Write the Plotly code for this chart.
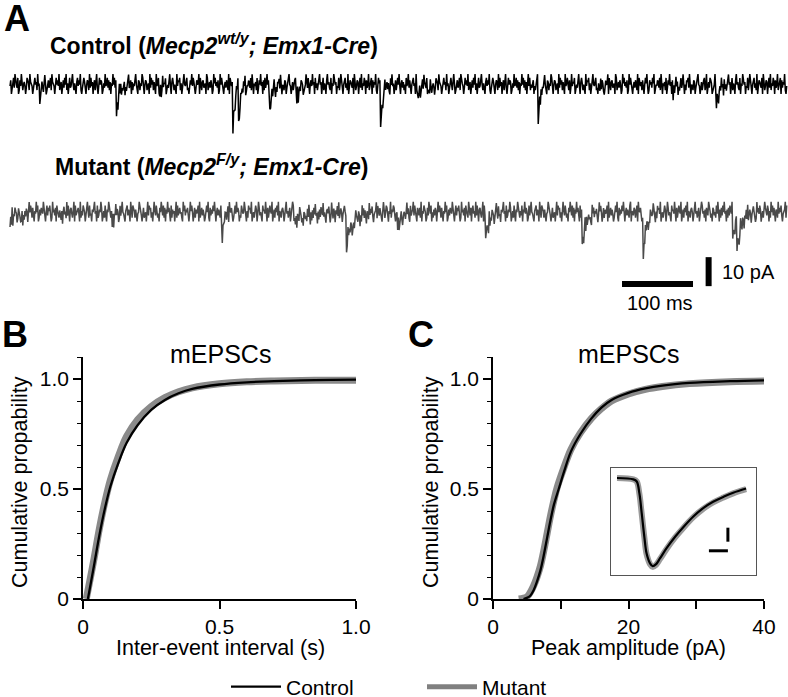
import numpy as np
import plotly.graph_objects as go

W, H = 788, 697
FONT = "Liberation Sans, Arial, sans-serif"

# ---------------- Panel A: example traces ----------------
trace_dt_ms = 1.0
trace_duration_ms = 1094
# miniature events: onset time (ms), amplitude (pA), decay (ms)
ctrl_evt_t = [42, 150, 210, 314, 322, 366, 404, 522, 574, 590, 744, 830, 934, 994]
ctrl_evt_amp = [3.5, 9, 3, 15, 11, 8, 6, 13.5, 5, 3.5, 12.5, 3, 3.5, 9]
ctrl_evt_tau = [3, 4, 3, 3, 3, 4, 3, 3, 3, 3, 2.5, 3, 3, 4]
mut_evt_t = [0, 14, 70, 144, 298, 400, 474, 546, 670, 806, 892, 1018, 1024]
mut_evt_amp = [4, 5, 3, 4, 11, 2.5, 10.5, 7, 9, 10.5, 17, 8, 11]
mut_evt_tau = [4, 3, 3, 3, 2.5, 25, 10, 4, 5, 6, 4, 5, 6]
ctrl_offset_pA = 0.0
mut_offset_pA = -44.0
# hand-typed baseline noise (digits 0-9) and the current level (pA) each digit stands for
noise_digits = (
    "3701582964280173951463028751964302784619350278416950137248196530"
    "2847391560372849150682379415206837491025863047519283604715920384"
    "7601529348271605394827160593814267031589247061538942076153982047"
    "6135092847162093584170293658014279306851420937681502794368120574"
    "9386102745908316724509813627401958362701948510362741908536172048"
    "5930174628590143762819405361802749360718259470316825930417682950"
    "4317602589430261578139046287501349628105739460825137946028153079"
    "4621805397460328159730468251903764280951376048291538607249135807"
    "2649103857284016935726108493502716849305726140835927104683509172"
)
noise_levels_pA = [-3.4, -2.1, -1.3, -0.7, -0.2, 0.2, 0.7, 1.3, 2.1, 3.4]
# scale bars: 100 ms and 10 pA
scalebar_t = [862, 962]
scalebar_t_level = -69.0
scalebar_amp_t = 984
scalebar_amp = [-59.7, -69.7]

# ---------------- Panel B: inter-event interval CDF ----------------
iei_ctrl_x = [0.018, 0.04, 0.06, 0.08, 0.10, 0.13, 0.16, 0.20, 0.25, 0.30, 0.35, 0.40, 0.50, 0.60, 0.70, 0.85, 1.0]
iei_ctrl_y = [0.0, 0.15, 0.29, 0.41, 0.51, 0.62, 0.71, 0.79, 0.86, 0.905, 0.935, 0.955, 0.975, 0.985, 0.99, 0.995, 0.997]
iei_mut_x = [0.012, 0.04, 0.06, 0.08, 0.10, 0.13, 0.16, 0.20, 0.25, 0.30, 0.35, 0.40, 0.50, 0.60, 0.70, 0.85, 1.0]
iei_mut_y = [0.0, 0.18, 0.32, 0.44, 0.54, 0.65, 0.74, 0.815, 0.875, 0.915, 0.942, 0.96, 0.978, 0.987, 0.991, 0.994, 0.994]

# ---------------- Panel C: amplitude CDF ----------------
amp_ctrl_x = [4.5, 5.0, 5.5, 6.0, 6.5, 7.0, 7.5, 8.0, 8.5, 9.0, 9.7, 10.5, 11.5, 12.9, 14.5, 16.0, 17.5, 20.0, 22.5, 25.0, 29.0, 35.0, 40.0]
amp_ctrl_y = [0.0, 0.005, 0.015, 0.04, 0.08, 0.13, 0.2, 0.28, 0.36, 0.43, 0.5, 0.58, 0.67, 0.75, 0.82, 0.87, 0.905, 0.937, 0.957, 0.97, 0.982, 0.99, 0.994]
amp_mut_x = [3.8, 5.0, 5.5, 6.0, 6.5, 7.0, 7.5, 8.0, 8.5, 9.0, 9.5, 10.5, 11.5, 12.9, 14.5, 16.0, 17.5, 20.0, 22.5, 25.0, 29.0, 35.0, 40.0]
amp_mut_y = [0.0, 0.01, 0.03, 0.06, 0.1, 0.15, 0.22, 0.3, 0.38, 0.45, 0.51, 0.6, 0.68, 0.755, 0.82, 0.865, 0.9, 0.932, 0.953, 0.966, 0.979, 0.988, 0.991]

# ---------------- Inset: average mEPSC ----------------
avg_t_ms = [0, 4.3, 5.2, 5.9, 6.5, 7.2, 7.8, 8.7, 9.4, 10.3, 11.3, 13.1, 15.3, 17.5, 20.1, 22.7, 25.3, 28.0, 30.6, 34.0]
avg_ctrl_pA = [0, -0.2, -0.5, -2.2, -5.0, -8.4, -10.8, -12.2, -12.6, -12.3, -11.5, -10.0, -8.4, -7.0, -5.5, -4.3, -3.4, -2.7, -2.1, -1.5]
avg_mut_pA = [0, -0.2, -0.5, -2.3, -5.1, -8.5, -10.9, -12.3, -12.7, -12.4, -11.6, -10.1, -8.5, -7.1, -5.6, -4.4, -3.5, -2.8, -2.2, -1.6]
inset_bar_t = [24.2, 29.2]      # 5 ms
inset_bar_t_level = -10.4
inset_bar_amp_t = 29.2
inset_bar_amp = [-7.1, -9.1]    # 2 pA


def build_trace(evt_t, evt_amp, evt_tau, digits, offset):
    t = np.arange(0, trace_duration_ms + trace_dt_ms, trace_dt_ms)
    y = np.array([noise_levels_pA[int(digits[i % len(digits)])] for i in range(len(t))]) + offset
    for t0, a, tau in zip(evt_t, evt_amp, evt_tau):
        m = t >= t0
        y[m] -= a * np.exp(-(t[m] - t0) / tau)
    return t, y


def px(x):
    return x / W


def py(y):
    return 1 - y / H


fig = go.Figure()

tc, yc = build_trace(ctrl_evt_t, ctrl_evt_amp, ctrl_evt_tau, noise_digits, ctrl_offset_pA)
tm, ym = build_trace(mut_evt_t, mut_evt_amp, mut_evt_tau, noise_digits[::-1], mut_offset_pA)
fig.add_trace(go.Scatter(x=tc, y=yc, mode="lines", line=dict(color="black", width=1.5),
                         xaxis="x", yaxis="y", showlegend=False, hoverinfo="skip"))
fig.add_trace(go.Scatter(x=tm, y=ym, mode="lines", line=dict(color="#4a4a4a", width=1.5),
                         xaxis="x", yaxis="y", showlegend=False, hoverinfo="skip"))
fig.add_trace(go.Scatter(x=scalebar_t, y=[scalebar_t_level] * 2, mode="lines",
                         line=dict(color="black", width=6), xaxis="x", yaxis="y", showlegend=False))
fig.add_trace(go.Scatter(x=[scalebar_amp_t] * 2, y=scalebar_amp, mode="lines",
                         line=dict(color="black", width=6), xaxis="x", yaxis="y", showlegend=False))

GRAY = "#8a8a8a"
# Panel B
fig.add_trace(go.Scatter(x=iei_mut_x, y=iei_mut_y, mode="lines", line=dict(color=GRAY, width=7, shape="spline"),
                         xaxis="x2", yaxis="y2", showlegend=False))
fig.add_trace(go.Scatter(x=iei_ctrl_x, y=iei_ctrl_y, mode="lines", line=dict(color="black", width=2.3, shape="spline"),
                         xaxis="x2", yaxis="y2", showlegend=False))
# Panel C
fig.add_trace(go.Scatter(x=amp_mut_x, y=amp_mut_y, mode="lines", line=dict(color=GRAY, width=7, shape="spline"),
                         xaxis="x3", yaxis="y3", showlegend=False))
fig.add_trace(go.Scatter(x=amp_ctrl_x, y=amp_ctrl_y, mode="lines", line=dict(color="black", width=2.3, shape="spline"),
                         xaxis="x3", yaxis="y3", showlegend=False))
# Inset
fig.add_trace(go.Scatter(x=avg_t_ms, y=avg_mut_pA, mode="lines", line=dict(color="#9a9a9a", width=6, shape="spline"),
                         xaxis="x4", yaxis="y4", showlegend=False))
fig.add_trace(go.Scatter(x=avg_t_ms, y=avg_ctrl_pA, mode="lines", line=dict(color="black", width=2.2, shape="spline"),
                         xaxis="x4", yaxis="y4", showlegend=False))
fig.add_trace(go.Scatter(x=inset_bar_t, y=[inset_bar_t_level] * 2, mode="lines",
                         line=dict(color="black", width=3), xaxis="x4", yaxis="y4", showlegend=False))
fig.add_trace(go.Scatter(x=[inset_bar_amp_t] * 2, y=inset_bar_amp, mode="lines",
                         line=dict(color="black", width=3), xaxis="x4", yaxis="y4", showlegend=False))

# legend entries
fig.add_trace(go.Scatter(x=[None], y=[None], mode="lines", name="Control",
                         line=dict(color="black", width=2.3), xaxis="x2", yaxis="y2"))
fig.add_trace(go.Scatter(x=[None], y=[None], mode="lines", name="Mutant",
                         line=dict(color="#808080", width=5), xaxis="x2", yaxis="y2"))

tickfont = dict(family=FONT, size=21, color="black")
common_y = dict(range=[0, 1.1], tickvals=[0, 0.5, 1.0], ticktext=["0", "0.5", "1.0"],
                ticks="outside", ticklen=8, tickwidth=1.5, tickcolor="black",
                showline=True, linecolor="black", linewidth=1.5, showgrid=False, zeroline=False,
                tickfont=tickfont,
                minor=dict(dtick=0.1, tick0=0, ticks="outside", ticklen=4, tickwidth=1.2, tickcolor="black"))
common_x = dict(ticks="outside", ticklen=8, tickwidth=1.5, tickcolor="black",
                showline=True, linecolor="black", linewidth=1.5, showgrid=False, zeroline=False,
                tickfont=tickfont)

fig.update_layout(
    width=W, height=H, margin=dict(l=0, r=0, t=0, b=0, autoexpand=False),
    paper_bgcolor="white", plot_bgcolor="white",
    font=dict(family=FONT, color="black"),
    xaxis=dict(domain=[0, 1], range=[-14.1, 1095.8], visible=False),
    yaxis=dict(domain=[py(305), py(55)], range=[-76.2, 10.0], visible=False),
    xaxis2=dict(domain=[px(83), px(356)], range=[0, 1.0], tickvals=[0, 0.5, 1.0],
                ticktext=["0", "0.5", "1.0"], anchor="y2", **common_x),
    yaxis2=dict(domain=[py(599), py(357)], anchor="x2", **common_y),
    xaxis3=dict(domain=[px(493), px(764)], range=[0, 40], tickvals=[0, 20, 40],
                ticktext=["0", "20", "40"], anchor="y3",
                minor=dict(tickvals=[10, 30], ticks="outside", ticklen=8, tickwidth=1.5, tickcolor="black"),
                **common_x),
    yaxis3=dict(domain=[py(599), py(357)], anchor="x3", **common_y),
    xaxis4=dict(domain=[px(611), px(756)], range=[-1.58, 36.6], anchor="y4",
                showline=True, mirror=True, linecolor="#555", linewidth=1,
                showticklabels=False, ticks="", showgrid=False, zeroline=False),
    yaxis4=dict(domain=[py(575), py(468)], range=[-13.86, 1.43], anchor="x4",
                showline=True, mirror=True, linecolor="#555", linewidth=1,
                showticklabels=False, ticks="", showgrid=False, zeroline=False),
    showlegend=True,
    legend=dict(orientation="h", x=px(226), y=py(687), xanchor="left", yanchor="middle",
                font=dict(family=FONT, size=21, color="black"), bgcolor="rgba(0,0,0,0)",
                entrywidth=131, entrywidthmode="pixels", traceorder="normal", itemwidth=50),
)

ann = []


def text(x, y, s, size, xanchor="center", bold=False, xref="paper", yref="paper", angle=0):
    ann.append(dict(x=x, y=y, xref=xref, yref=yref, text=("<b>%s</b>" % s) if bold else s,
                    showarrow=False, xanchor=xanchor, yanchor="middle", textangle=angle,
                    font=dict(family=FONT, size=size, color="black")))


text(px(2), py(19), "A", 36, xanchor="left", bold=True)
text(px(0), py(334), "B", 36, xanchor="left", bold=True)
text(px(406), py(334), "C", 36, xanchor="left", bold=True)
text(px(48), py(44), "Control (<i>Mecp2<sup>wt/y</sup>; Emx1-Cre</i>)", 23, xanchor="left", bold=True)
text(px(53), py(165), "Mutant (<i>Mecp2<sup>F/y</sup>; Emx1-Cre</i>)", 23, xanchor="left", bold=True)
text(1000, -64.8, "10 pA", 20, xanchor="left", xref="x", yref="y")
text(915, -75.5, "100 ms", 20, xref="x", yref="y")
text(px(220), py(354), "mEPSCs", 25)
text(px(628), py(354), "mEPSCs", 25)
text(px(20), py(482), "Cumulative propability", 21.5, angle=-90)
text(px(431), py(482), "Cumulative propability", 21.5, angle=-90)
text(px(220), py(648), "Inter-event interval (s)", 21.5)
text(px(628), py(648), "Peak amplitude (pA)", 21.5)
fig.update_layout(annotations=ann)

fig.write_html("out.html", config={"displayModeBar": False},
               post_script="document.body.style.margin='0';")
